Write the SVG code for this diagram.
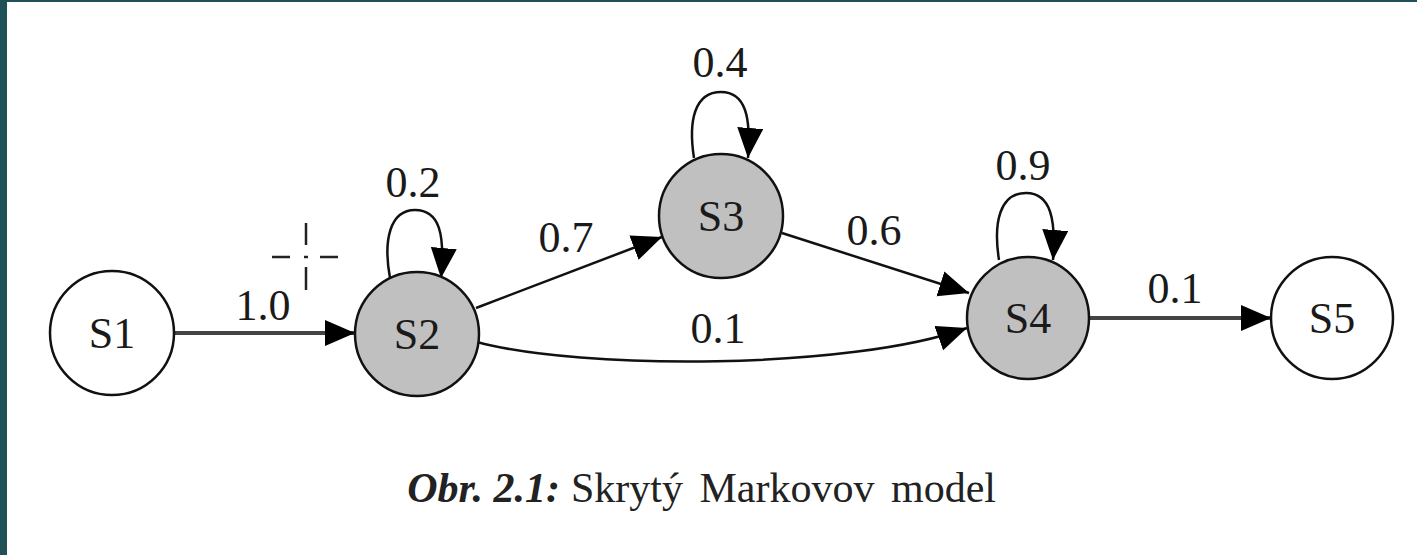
<svg xmlns="http://www.w3.org/2000/svg" width="1417" height="555" viewBox="0 0 1417 555">
<style>
.node circle{stroke:#111;stroke-width:2.5}
.gray{fill:#c0c0c0}
.white{fill:#fff}
.nl{font-family:"Liberation Serif",serif;font-size:44px;fill:#1a1a1a;text-anchor:middle}
.el{font-family:"Liberation Serif",serif;font-size:44px;fill:#1a1a1a;text-anchor:middle}
.edge{fill:none;stroke:#111;stroke-width:2.5;marker-end:url(#ah)}
.thick{stroke:#444;stroke-width:4}
.cap{font-family:"Liberation Serif",serif;font-size:42px;fill:#222}
</style>
<defs>
<marker id="ah" markerUnits="userSpaceOnUse" markerWidth="32" markerHeight="28" refX="30" refY="13" orient="auto">
<path d="M0,0 L30,13 L0,26 Z" fill="#000"/>
</marker>
</defs>
<rect x="0" y="0" width="1417" height="555" fill="#fff"/>
<rect x="0" y="0" width="1417" height="2" fill="#1f5157"/>
<rect x="0" y="0" width="7" height="555" fill="#1f5157"/>
<g id="cursor" stroke="#222" stroke-width="2.5">
<line x1="272" y1="257" x2="290" y2="257"/>
<line x1="320" y1="257" x2="338" y2="257"/>
<line x1="304" y1="257" x2="308" y2="257"/>
<line x1="306" y1="223" x2="306" y2="245"/>
<line x1="306" y1="267" x2="306" y2="290"/>
</g>
<g id="connectors">
<path class="edge thick" d="M174,333 L355,333"/>
<path class="edge" d="M390,278 C383,240 390,210 415,210 C440,210 445,235 441,278"/>
<path class="edge" d="M694,158 C688,120 695,92 721,92 C746,92 751,118 748,158"/>
<path class="edge" d="M999,260 C993,222 1000,193 1026,193 C1051,193 1056,220 1053,260"/>
<path class="edge" d="M476,308 L662,237"/>
<path class="edge" d="M782,233 L969,293"/>
<path class="edge" d="M477,342 C580,370 850,370 967,328"/>
<path class="edge thick" d="M1090,318 L1271,318"/>
<text class="el" x="263" y="320">1.0</text>
<text class="el" x="413" y="197">0.2</text>
<text class="el" x="720" y="77">0.4</text>
<text class="el" x="1023" y="180">0.9</text>
<text class="el" x="566" y="252">0.7</text>
<text class="el" x="874" y="245">0.6</text>
<text class="el" x="718" y="343">0.1</text>
<text class="el" x="1175" y="303">0.1</text>
</g>
<g id="S1" class="node"><circle class="white" cx="112" cy="333" r="62"/><text class="nl" x="112" y="348">S1</text></g>
<g id="S2" class="node"><circle class="gray" cx="417" cy="334" r="62"/><text class="nl" x="417" y="349">S2</text></g>
<g id="S3" class="node"><circle class="gray" cx="721" cy="216" r="62"/><text class="nl" x="721" y="231">S3</text></g>
<g id="S4" class="node"><circle class="gray" cx="1028" cy="318" r="61"/><text class="nl" x="1028" y="333">S4</text></g>
<g id="S5" class="node"><circle class="white" cx="1332" cy="318" r="61"/><text class="nl" x="1332" y="333">S5</text></g>
<g id="caption">
<text class="cap" x="560" y="502" text-anchor="end" font-weight="bold" font-style="italic">Obr. 2.1:</text>
<text class="cap" x="571" y="502" word-spacing="6">Skrytý Markovov model</text>
</g>
</svg>
